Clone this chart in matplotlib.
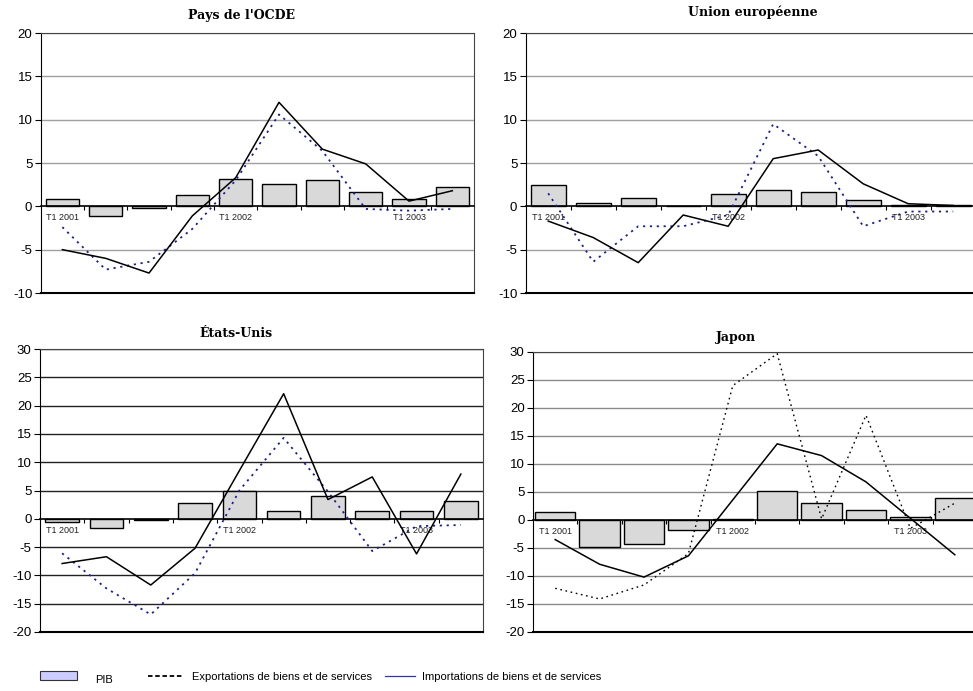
import matplotlib
matplotlib.use('Agg')
import matplotlib.pyplot as plt
from matplotlib.patches import Rectangle
from matplotlib.lines import Line2D

plt.rcParams['font.family'] = ['Liberation Sans', 'DejaVu Sans']
plt.rcParams['axes.unicode_minus'] = False

# Quarters T1 2001 .. T2 2003
quarters = ['T1 2001', 'T2 2001', 'T3 2001', 'T4 2001',
            'T1 2002', 'T2 2002', 'T3 2002', 'T4 2002',
            'T1 2003', 'T2 2003']

# Pays de l'OCDE
ocde_pib = [0.8, -1.1, -0.2, 1.3, 3.1, 2.6, 3.0, 1.6, 0.9, 2.2]
ocde_exp = [-5.0, -6.0, -7.7, -1.1, 3.3, 12.0, 6.6, 4.9, 0.6, 1.8]
ocde_imp = [-2.4, -7.3, -6.4, -2.6, 3.0, 10.6, 6.4, -0.3, -0.5, -0.3]

# Union européenne
ue_pib = [2.45, 0.35, 0.95, 0.08, 1.4, 1.9, 1.7, 0.75, 0.2, 0.1]
ue_exp = [-1.7, -3.6, -6.5, -1.0, -2.3, 5.5, 6.5, 2.6, 0.3, 0.1]
ue_imp = [1.5, -6.4, -2.3, -2.3, -1.0, 9.5, 5.8, -2.3, -0.6, -0.6]

# États-Unis
us_pib = [-0.5, -1.6, -0.3, 2.8, 5.0, 1.3, 4.0, 1.4, 1.45, 3.2]
us_exp = [-7.9, -6.7, -11.7, -5.2, 8.5, 22.1, 3.4, 7.4, -6.2, 7.9]
us_imp = [-6.1, -12.3, -16.9, -9.6, 5.0, 14.3, 4.8, -5.7, -1.3, -1.1]

# Japon
jp_pib = [1.5, -4.8, -4.35, -1.8, 0.1, 5.2, 3.1, 1.8, 0.6, 3.9]
jp_exp = [-3.5, -7.9, -10.2, -6.4, 3.6, 13.6, 11.5, 6.8, 0.3, -6.2]
jp_imp = [-12.2, -14.1, -11.6, -6.0, 24.0, 29.7, 0.2, 18.7, -1.5, 3.0]

W, H = 973, 691
fig = plt.figure(figsize=(W / 100, H / 100), dpi=100)


def box(l, r, t, b):
    return [l / W, 1 - b / H, (r - l) / W, (b - t) / H]


def panel(rect, pib, exp, imp, ylim, title, title_xy, grid_col, dot_col, dot_lw, bar_w):
    ax = fig.add_axes(box(*rect))
    x = list(range(len(quarters)))
    ax.set_xlim(-0.5, len(quarters) - 0.5)
    ax.set_ylim(*ylim)
    ax.set_yticks(range(ylim[0], ylim[1] + 1, 5))
    for v in range(ylim[0] + 5, ylim[1] + 1, 5):
        if v != 0:
            ax.axhline(v, color=grid_col, lw=1.0, zorder=0)
    ax.bar(x, pib, width=bar_w, color='#d9d9d9', edgecolor='black', lw=1.0, zorder=2)
    ax.plot(x, imp, color=dot_col, lw=dot_lw, linestyle=(0, (1.2, 2.6)), zorder=3)
    ax.plot(x, exp, color='black', lw=1.1, zorder=4)

    # category axis drawn on the zero line
    ax.spines['bottom'].set_position(('data', 0))
    ax.spines['bottom'].set_linewidth(1.2)
    ax.set_xticks([i + 0.5 for i in x[:-1]])
    ax.tick_params(axis='x', length=3, direction='out', labelbottom=False, width=0.8)
    ax.axhline(ylim[0], color='black', lw=1.5, clip_on=False, zorder=5)
    ax.spines['top'].set_color('#444444')
    ax.spines['right'].set_color('#444444')
    ax.tick_params(axis='y', length=4, width=0.8, labelsize=9.5, pad=2)
    for i, q in enumerate(quarters):
        if q.startswith('T1'):
            ax.annotate(q, (i, 0), xytext=(0, -5), textcoords='offset points',
                        ha='center', va='top', fontsize=6.5, color='#222222')
    fig.text(title_xy[0] / W, 1 - title_xy[1] / H, title, ha='center', va='center',
             fontsize=9, fontweight='bold', family='DejaVu Serif')
    return ax


panel((40.7, 474, 33, 293), ocde_pib, ocde_exp, ocde_imp, (-10, 20),
      "Pays de l'OCDE", (242, 15), '#a0a0a0', '#1c1c9a', 1.3, 0.77)
panel((525.7, 975.7, 33, 293), ue_pib, ue_exp, ue_imp, (-10, 20),
      'Union européenne', (753, 12), '#a0a0a0', '#1c1c9a', 1.3, 0.77)
panel((40, 483, 349, 632), us_pib, us_exp, us_imp, (-20, 30),
      'États-Unis', (236, 334), '#222222', '#1c1c9a', 1.3, 0.76)
panel((533, 977, 352, 632), jp_pib, jp_exp, jp_imp, (-20, 30),
      'Japon', (736, 337), '#8a8a8a', 'black', 1.0, 0.91)

# legend at the bottom
fy = lambda y: 1 - y / H
fig.add_artist(Rectangle((40 / W, fy(680)), 37 / W, 9 / H, transform=fig.transFigure,
                         facecolor='#ccccff', edgecolor='#333333', lw=0.8))
fig.text(95 / W, fy(680), 'PIB', fontsize=8, va='center')
fig.add_artist(Line2D([148 / W, 183 / W], [fy(676), fy(676)], transform=fig.transFigure,
                      color='black', lw=1.3, linestyle=(0, (2.5, 1.5))))
fig.text(192 / W, fy(677), 'Exportations de biens et de services', fontsize=8, va='center')
fig.add_artist(Line2D([385 / W, 415 / W], [fy(676), fy(676)], transform=fig.transFigure,
                      color='#3333aa', lw=0.9))
fig.text(422 / W, fy(677), 'Importations de biens et de services', fontsize=8, va='center')

fig.savefig('out.png', dpi=100)
